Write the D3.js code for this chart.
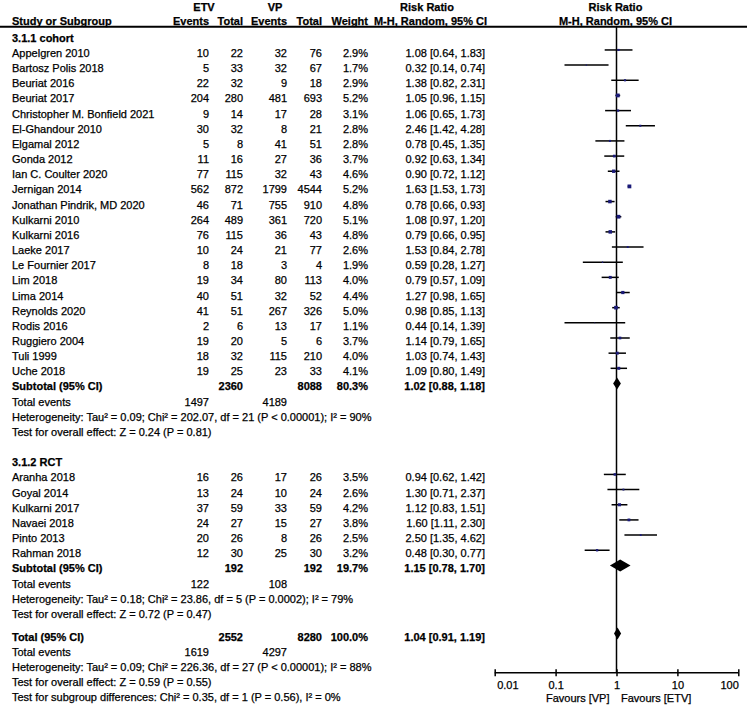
<!DOCTYPE html>
<html><head><meta charset="utf-8">
<script src="https://cdn.jsdelivr.net/npm/d3@7"></script>
<style>
body{margin:0;background:#fff}
svg{display:block}
text{font-family:"Liberation Sans",Arial,sans-serif;font-size:11px;fill:#000;stroke:#000;stroke-width:0.25px}
</style>
</head><body><svg id="c" width="747" height="711"></svg>
<script>
// ---------- DATA ----------
const cohortStudies = ["Appelgren 2010","Bartosz Polis 2018","Beuriat 2016","Beuriat 2017","Christopher M. Bonfield 2021","El-Ghandour 2010","Elgamal 2012","Gonda 2012","Ian C. Coulter 2020","Jernigan 2014","Jonathan Pindrik, MD 2020","Kulkarni 2010","Kulkarni 2016","Laeke 2017","Le Fournier 2017","Lim 2018","Lima 2014","Reynolds 2020","Rodis 2016","Ruggiero 2004","Tuli 1999","Uche 2018"];
const cohortEtvEvents = [10,5,22,204,9,30,5,11,77,562,46,264,76,10,8,19,40,41,2,19,18,19];
const cohortEtvTotal  = [22,33,32,280,14,32,8,16,115,872,71,489,115,24,18,34,51,51,6,20,32,25];
const cohortVpEvents  = [32,32,9,481,17,8,41,27,32,1799,755,361,36,21,3,80,32,267,13,5,115,23];
const cohortVpTotal   = [76,67,18,693,28,21,51,36,43,4544,910,720,43,77,4,113,52,326,17,6,210,33];
const cohortWeight    = [2.9,1.7,2.9,5.2,3.1,2.8,2.8,3.7,4.6,5.2,4.8,5.1,4.8,2.6,1.9,4.0,4.4,5.0,1.1,3.7,4.0,4.1];
const cohortRR        = [1.08,0.32,1.38,1.05,1.06,2.46,0.78,0.92,0.90,1.63,0.78,1.08,0.79,1.53,0.59,0.79,1.27,0.98,0.44,1.14,1.03,1.09];
const cohortLow       = [0.64,0.14,0.82,0.96,0.65,1.42,0.45,0.63,0.72,1.53,0.66,0.97,0.66,0.84,0.28,0.57,0.98,0.85,0.14,0.79,0.74,0.80];
const cohortHigh      = [1.83,0.74,2.31,1.15,1.73,4.28,1.35,1.34,1.12,1.73,0.93,1.20,0.95,2.78,1.27,1.09,1.65,1.13,1.39,1.65,1.43,1.49];

const rctStudies   = ["Aranha 2018","Goyal 2014","Kulkarni 2017","Navaei  2018","Pinto 2013","Rahman 2018"];
const rctEtvEvents = [16,13,37,24,20,12];
const rctEtvTotal  = [26,24,59,27,26,30];
const rctVpEvents  = [17,10,33,15,8,25];
const rctVpTotal   = [26,24,59,27,26,30];
const rctWeight    = [3.5,2.6,4.2,3.8,2.5,3.2];
const rctRR        = [0.94,1.30,1.12,1.60,2.50,0.48];
const rctLow       = [0.62,0.71,0.83,1.11,1.35,0.30];
const rctHigh      = [1.42,2.37,1.51,2.30,4.62,0.77];

// summaries: [etvTotal, vpTotal, weight, rr, low, high, etvEvents, vpEvents]
const cohortSummary = [2360, 8088, 80.3, 1.02, 0.88, 1.18, 1497, 4189];
const rctSummary    = [192, 192, 19.7, 1.15, 0.78, 1.70, 122, 108];
const overallSummary= [2552, 8280, 100.0, 1.04, 0.91, 1.19, 1619, 4297];

const cohortTexts = ["Heterogeneity: Tau\u00b2 = 0.09; Chi\u00b2 = 202.07, df = 21 (P < 0.00001); I\u00b2 = 90%","Test for overall effect: Z = 0.24 (P = 0.81)"];
const rctTexts = ["Heterogeneity: Tau\u00b2 = 0.18; Chi\u00b2 = 23.86, df = 5 (P = 0.0002); I\u00b2 = 79%","Test for overall effect: Z = 0.72 (P = 0.47)"];
const overallTexts = ["Heterogeneity: Tau\u00b2 = 0.09; Chi\u00b2 = 226.36, df = 27 (P < 0.00001); I\u00b2 = 88%","Test for overall effect: Z = 0.59 (P = 0.55)","Test for subgroup differences: Chi\u00b2 = 0.35, df = 1 (P = 0.56), I\u00b2 = 0%"];

const tickValues = [0.01, 0.1, 1, 10, 100];
const tickLabels = ["0.01", "0.1", "1", "10", "100"];

// ---------- LAYOUT ----------
const svg = d3.select("#c");
const W = 747;
const step = 15.16;
const colX = {label:12, ee:209, et:243, ve:287, vt:322, w:368, ci:485};
const x = d3.scaleLog().domain([0.01, 100]).range([494.7, 738.3]);
const axisY = 672.7;
const wScale = d3.scaleLinear().domain([0, 5.2]).range([0, 3.8]);
const f2 = d3.format(".2f"), f1 = d3.format(".1f");
const ciText = (r,l,h) => `${f2(r)} [${f2(l)}, ${f2(h)}]`;

const rows = [];
let cy = 41.8;
function push(r){ r.y = cy; rows.push(r); cy += step; }
function group(title, names, ee, et, ve, vt, w, rr, lo, hi, sum, texts){
  push({type:"head", label:title});
  names.forEach((n,i)=>push({type:"study", label:n, ee:ee[i], et:et[i], ve:ve[i], vt:vt[i], w:w[i], rr:rr[i], lo:lo[i], hi:hi[i]}));
  push({type:"sum", label:"Subtotal (95% CI)", et:sum[0], vt:sum[1], w:sum[2], rr:sum[3], lo:sum[4], hi:sum[5]});
  push({type:"events", label:"Total events", ee:sum[6], ve:sum[7]});
  texts.forEach(t=>push({type:"note", label:t}));
}
group("3.1.1 cohort", cohortStudies, cohortEtvEvents, cohortEtvTotal, cohortVpEvents, cohortVpTotal, cohortWeight, cohortRR, cohortLow, cohortHigh, cohortSummary, cohortTexts);
cy += step;
group("3.1.2 RCT", rctStudies, rctEtvEvents, rctEtvTotal, rctVpEvents, rctVpTotal, rctWeight, rctRR, rctLow, rctHigh, rctSummary, rctTexts);
cy += step * 0.5;
push({type:"sum", label:"Total (95% CI)", et:overallSummary[0], vt:overallSummary[1], w:overallSummary[2], rr:overallSummary[3], lo:overallSummary[4], hi:overallSummary[5]});
push({type:"events", label:"Total events", ee:overallSummary[6], ve:overallSummary[7]});
overallTexts.forEach(t=>push({type:"note", label:t}));

// ---------- HEADER ----------
const hdr = svg.append("g");
function t(g, xx, yy, s, anchor, bold){
  return g.append("text").attr("x", xx).attr("y", yy).attr("text-anchor", anchor||"start")
    .style("font-weight", bold ? "bold" : "normal").text(s);
}
t(hdr, 204, 10.7, "ETV", "middle", true);
t(hdr, 275, 10.7, "VP", "middle", true);
t(hdr, 427, 10.7, "Risk Ratio", "middle", true);
t(hdr, 615.5, 10.7, "Risk Ratio", "middle", true);
t(hdr, colX.label, 24.5, "Study or Subgroup", "start", true);
t(hdr, colX.ee, 24.5, "Events", "end", true);
t(hdr, colX.et, 24.5, "Total", "end", true);
t(hdr, colX.ve, 24.5, "Events", "end", true);
t(hdr, colX.vt, 24.5, "Total", "end", true);
t(hdr, colX.w, 24.5, "Weight", "end", true);
t(hdr, 430.5, 24.5, "M-H, Random, 95% CI", "middle", true);
t(hdr, 615.5, 24.5, "M-H, Random, 95% CI", "middle", true);
hdr.append("line").attr("x1", 0).attr("x2", W).attr("y1", 26.7).attr("y2", 26.7)
  .attr("stroke", "#000").attr("stroke-width", 2);

// ---------- PLOT ----------
const plot = svg.append("g");
plot.append("line").attr("x1", x(1)).attr("x2", x(1)).attr("y1", 26.7).attr("y2", axisY)
  .attr("stroke", "#000").attr("stroke-width", 1.5);

const axis = d3.axisBottom(x).tickValues(tickValues).tickFormat((d,i)=>tickLabels[i]).tickSize(4).tickPadding(6);
const ag = plot.append("g").attr("transform", `translate(0,${axisY})`).call(axis);
ag.select(".domain").attr("stroke", "#000").attr("stroke-width", 1.5).attr("d", `M${x(0.01)},0H${x(100)}`);
ag.selectAll(".tick line").attr("y1", -3.5).attr("y2", 3.5).attr("stroke", "#000").attr("stroke-width", 1.5);
ag.selectAll(".tick text").attr("y", 16.3).attr("dy", null)
  .style("font-family", '"Liberation Sans",Arial,sans-serif').style("font-size", "11px").attr("fill", "#000")
  .style("stroke", "#000").style("stroke-width", "0.25px");
ag.selectAll(".tick text").filter((d,i)=>i===0).attr("text-anchor", "start").attr("x", 2);
ag.selectAll(".tick text").filter((d,i)=>i===tickValues.length-1).attr("text-anchor", "end").attr("x", 0);
t(plot, x(1) - 7, axisY + 29.5, "Favours [VP]", "end", false);
t(plot, x(1) + 4.5, axisY + 29.5, "Favours [ETV]", "start", false);

// ---------- ROWS ----------
const body = svg.append("g");
rows.forEach(r=>{
  const bold = r.type === "head" || r.type === "sum";
  t(body, colX.label, r.y, r.label, "start", bold);
  if (r.type === "study" || r.type === "events"){
    t(body, colX.ee, r.y, String(r.ee), "end", false);
    t(body, colX.ve, r.y, String(r.ve), "end", false);
  }
  if (r.type === "study" || r.type === "sum"){
    t(body, colX.et, r.y, String(r.et), "end", bold);
    t(body, colX.vt, r.y, String(r.vt), "end", bold);
    t(body, colX.w, r.y, f1(r.w) + "%", "end", bold);
    t(body, colX.ci, r.y, ciText(r.rr, r.lo, r.hi), "end", bold);
  }
  const my = r.y - 7;
  if (r.type === "study"){
    body.append("line").attr("x1", x(r.lo)).attr("x2", x(r.hi)).attr("y1", my).attr("y2", my)
      .attr("stroke", "#000").attr("stroke-width", 1.5);
    const s = wScale(r.w);
    body.append("rect").attr("x", x(r.rr) - s/2).attr("y", my - s/2).attr("width", s).attr("height", s)
      .attr("fill", "#1a1a78");
  }
  if (r.type === "sum"){
    const h = 6;
    body.append("path")
      .attr("d", `M${x(r.lo)},${my}L${x(r.rr)},${my-h}L${x(r.hi)},${my}L${x(r.rr)},${my+h}Z`)
      .attr("fill", "#000");
  }
});
</script></body></html>
